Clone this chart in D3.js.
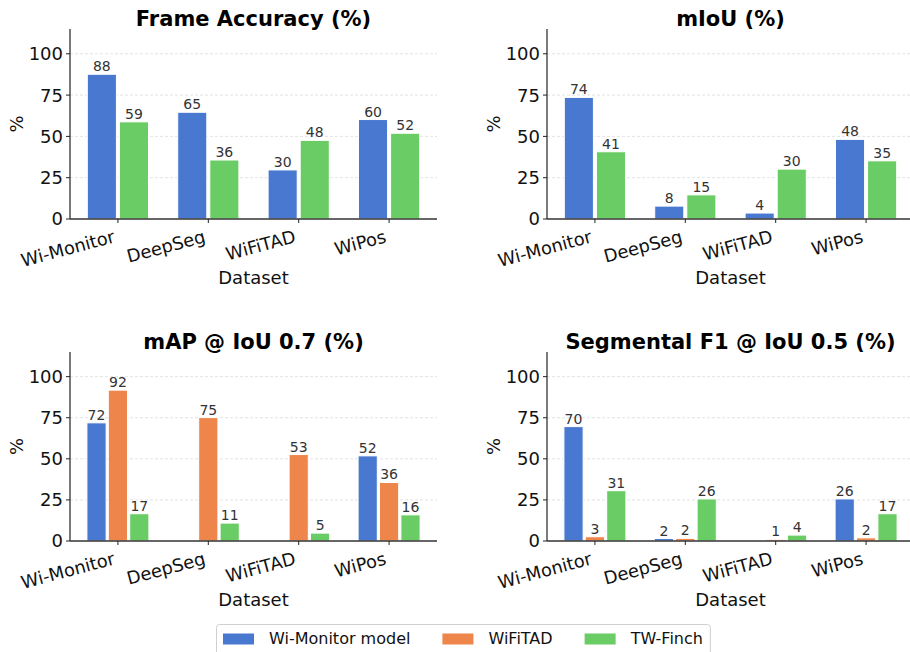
<!DOCTYPE html>
<html lang="en">
<head>
  <meta charset="UTF-8">
  <title>Segmentation metrics by dataset</title>
  <script src="https://d3js.org/d3.v7.min.js"></script>
  <style>
    body { margin: 0; background: #fff; font-family: "DejaVu Sans", sans-serif; }
    svg { display: block; }
  </style>
</head>
<body>
<svg width="910" height="652"></svg>
<script>
  const datasets = ["Wi-Monitor", "DeepSeg", "WiFiTAD", "WiPos"];
  const models = ["Wi-Monitor model", "WiFiTAD", "TW-Finch"];
  const modelColors = ["#4878d0", "#ee854a", "#6acc64"];
  const yTicks = [0, 25, 50, 75, 100];

  // values per model, in dataset order (null = model not reported)
  const frameAccuracy = {
    "Wi-Monitor model": [87.6, 64.6, 29.7, 60.2],
    "TW-Finch": [58.8, 35.7, 47.6, 51.9]
  };
  const mIoU = {
    "Wi-Monitor model": [73.6, 7.8, 3.6, 48.2],
    "TW-Finch": [40.7, 14.6, 30.2, 35.2]
  };
  const mAP07 = {
    "Wi-Monitor model": [71.9, null, 0, 51.8],
    "WiFiTAD": [91.8, 75.1, 52.6, 35.6],
    "TW-Finch": [16.6, 10.9, 4.8, 15.9]
  };
  const segF1 = {
    "Wi-Monitor model": [69.6, 1.5, 0, 25.6],
    "WiFiTAD": [2.6, 1.6, 1.0, 1.9],
    "TW-Finch": [30.6, 25.6, 3.6, 16.6]
  };

  const panels = [
    {title: "Frame Accuracy (%)", data: frameAccuracy, x0: 70, y0: 29, y1: 219},
    {title: "mIoU (%)", data: mIoU, x0: 547, y0: 29, y1: 219},
    {title: "mAP @ IoU 0.7 (%)", data: mAP07, x0: 70, y0: 352, y1: 541},
    {title: "Segmental F1 @ IoU 0.5 (%)", data: segF1, x0: 547, y0: 352, y1: 541}
  ];

  const svg = d3.select("svg");
  const panelWidth = 367;
  const fmt = d3.format(".0f");

  panels.forEach(p => {
    const g = svg.append("g");
    const left = p.x0, right = p.x0 + panelWidth;

    const x = d3.scaleLinear().domain([-0.53, datasets.length - 1 + 0.53]).range([left, right]);
    const y = d3.scaleLinear().domain([0, 115]).range([p.y1, p.y0]);
    const step = x(1) - x(0);

    // grid
    g.selectAll(".grid")
      .data(yTicks.filter(t => t > 0))
      .join("line")
      .attr("x1", left).attr("x2", right)
      .attr("y1", d => y(d)).attr("y2", d => y(d))
      .attr("stroke", "#dcdcdc")
      .attr("stroke-width", 0.8)
      .attr("stroke-dasharray", "3,2");

    // bars
    const series = models.filter(m => p.data[m]);
    const groupW = 0.71 * step;
    const slot = groupW / series.length;
    const barW = slot - (series.length === 2 ? 3 : 2.2);

    series.forEach((m, si) => {
      const color = modelColors[models.indexOf(m)];
      const vals = p.data[m].map((v, i) => ({v, i})).filter(d => d.v !== null);
      const cx = d => x(d.i) - groupW / 2 + slot * (si + 0.5);

      g.selectAll(null)
        .data(vals)
        .join("rect")
        .attr("x", d => cx(d) - barW / 2)
        .attr("width", barW)
        .attr("y", d => y(d.v))
        .attr("height", d => y(0) - y(d.v))
        .attr("fill", color)
        .attr("stroke", "#fff")
        .attr("stroke-width", 1);

      g.selectAll(null)
        .data(vals.filter(d => d.v > 0))
        .join("text")
        .attr("x", d => cx(d))
        .attr("y", d => y(d.v) - 3)
        .attr("text-anchor", "middle")
        .attr("font-size", 14)
        .attr("fill", "#333")
        .text(d => fmt(d.v));
    });

    // y axis
    g.append("line")
      .attr("x1", left).attr("x2", left)
      .attr("y1", p.y0).attr("y2", p.y1)
      .attr("stroke", "#222").attr("stroke-width", 1.2);
    g.selectAll(".ytick")
      .data(yTicks)
      .join("line")
      .attr("x1", left - 4).attr("x2", left)
      .attr("y1", d => y(d)).attr("y2", d => y(d))
      .attr("stroke", "#222").attr("stroke-width", 1);
    g.selectAll(".ylab")
      .data(yTicks)
      .join("text")
      .attr("x", left - 7)
      .attr("y", d => y(d))
      .attr("dy", "0.36em")
      .attr("text-anchor", "end")
      .attr("font-size", 18)
      .attr("fill", "#111")
      .text(d => d);

    // x axis
    g.append("line")
      .attr("x1", left).attr("x2", right)
      .attr("y1", p.y1).attr("y2", p.y1)
      .attr("stroke", "#333").attr("stroke-width", 1.3);
    g.selectAll(".xtick")
      .data(datasets)
      .join("line")
      .attr("x1", (d, i) => x(i)).attr("x2", (d, i) => x(i))
      .attr("y1", p.y1).attr("y2", p.y1 + 4)
      .attr("stroke", "#222").attr("stroke-width", 1);
    g.selectAll(".xlab")
      .data(datasets)
      .join("text")
      .attr("transform", (d, i) => `translate(${x(i) - 2},${p.y1 + 23}) rotate(-15)`)
      .attr("text-anchor", "end")
      .attr("font-size", 17.8)
      .attr("fill", "#111")
      .text(d => d);

    // labels
    g.append("text")
      .attr("x", (left + right) / 2)
      .attr("y", p.y1 + 65)
      .attr("text-anchor", "middle")
      .attr("font-size", 18)
      .attr("fill", "#111")
      .text("Dataset");
    g.append("text")
      .attr("transform", `translate(${left - 47},${(p.y0 + p.y1) / 2}) rotate(-90)`)
      .attr("text-anchor", "middle")
      .attr("font-size", 18)
      .attr("fill", "#111")
      .text("%");
    g.append("text")
      .attr("x", (left + right) / 2)
      .attr("y", p.y0 - 3)
      .attr("text-anchor", "middle")
      .attr("font-size", 21)
      .attr("font-weight", "bold")
      .attr("fill", "#000")
      .text(p.title);
  });

  // legend
  const legend = svg.append("g");
  const box = legend.append("rect")
    .attr("y", 624.5).attr("height", 40)
    .attr("rx", 3)
    .attr("fill", "#fff")
    .attr("stroke", "#d0d0d0");
  let cx = 0;
  const items = legend.append("g");
  models.forEach((m, i) => {
    items.append("rect")
      .attr("x", cx).attr("y", 633.5)
      .attr("width", 31).attr("height", 11)
      .attr("fill", modelColors[i]);
    const t = items.append("text")
      .attr("x", cx + 46).attr("y", 644)
      .attr("font-size", 16)
      .attr("fill", "#111")
      .text(m);
    cx += 46 + t.node().getComputedTextLength() + 32;
  });
  const itemsW = cx - 32;
  const lx = 223;
  items.attr("transform", `translate(${lx},0)`);
  box.attr("x", lx - 6.5).attr("width", itemsW + 14);
</script>
</body>
</html>
